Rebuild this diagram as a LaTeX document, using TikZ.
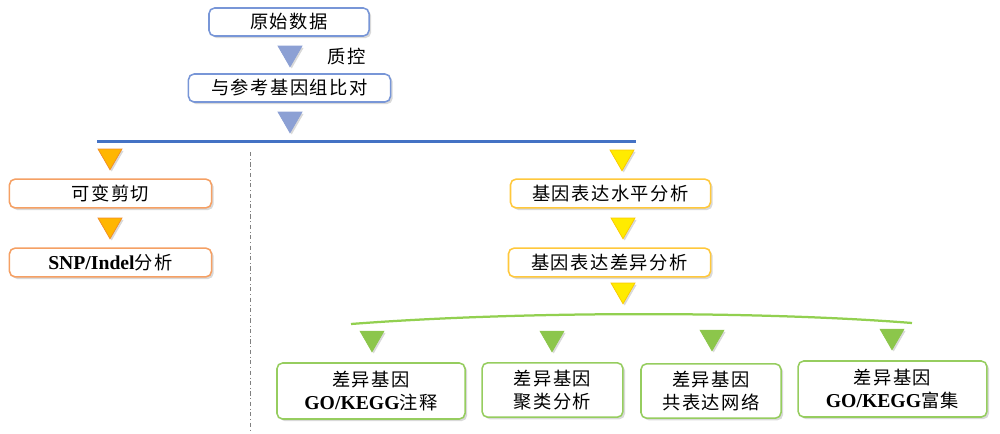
\documentclass[tikz,border=0pt]{standalone}
\usepackage{fontspec}
\setmainfont{Liberation Serif}
\newfontfamily\cjk[LetterSpace=8]{Noto Sans CJK SC}
\usepackage{xcolor}
\usetikzlibrary{shapes.geometric,shadows}

\definecolor{blueedge}{RGB}{120,150,215}
\definecolor{bluetri}{RGB}{140,160,212}
\definecolor{blueline}{RGB}{68,114,196}
\definecolor{orangeedge}{RGB}{245,160,100}
\definecolor{orangetri}{RGB}{255,182,0}
\definecolor{orangetriedge}{RGB}{240,140,40}
\definecolor{yellowedge}{RGB}{255,200,60}
\definecolor{yellowtri}{RGB}{255,235,0}
\definecolor{yellowtriedge}{RGB}{250,200,0}
\definecolor{greenedge}{RGB}{150,205,95}
\definecolor{greentri}{RGB}{140,198,75}
\definecolor{greenline}{RGB}{146,208,80}

\newcommand\lat[1]{{\normalfont\bfseries\fontsize{14}{16}\selectfont #1}}

\tikzset{
    cjkfont/.style={font=\cjk\fontsize{13}{16}\selectfont},
    stepbox/.style={draw, rounded corners=4pt, line width=1.1pt, fill=white,
        inner sep=0pt, cjkfont, align=center,
        drop shadow={shadow xshift=1.5pt, shadow yshift=-1.5pt, opacity=0.3, fill=gray}},
    downtri/.style={regular polygon, regular polygon sides=3, shape border rotate=180,
        minimum size=0.69cm, inner sep=0pt, line width=0.5pt,
        drop shadow={shadow xshift=1.2pt, shadow yshift=-1.2pt, opacity=0.3, fill=gray}}
}

\begin{document}
\begin{tikzpicture}[x=0.025cm, y=-0.025cm]
            \useasboundingbox (0,0) rectangle (1000,434);
            % top part
            \node[stepbox, draw=blueedge, minimum width=4cm, minimum height=0.7cm] (raw) at (289,22) {原始数据};
            \node[downtri, fill=bluetri, draw=bluetri] (t1) at (290,53) {};
            \node[cjkfont] (qc) at (347,57) {质控};
            \node[stepbox, draw=blueedge, minimum width=5.05cm, minimum height=0.7cm] (align) at (289.5,88) {与参考基因组比对};
            \node[downtri, fill=bluetri, draw=bluetri] (t2) at (290,119) {};
            \draw[blueline, line width=1.6pt] (97,141.5) -- (636,141.5);
            \draw[gray, dash dot, line width=0.6pt] (250,152) -- (250,432);
            % left branch
            \node[downtri, fill=orangetri, draw=orangetriedge] (t3) at (110,156) {};
            \node[stepbox, draw=orangeedge, minimum width=5.05cm, minimum height=0.72cm] (splice) at (110.5,193.5) {可变剪切};
            \node[downtri, fill=orangetri, draw=orangetriedge] (t4) at (110,225) {};
            \node[stepbox, draw=orangeedge, minimum width=5.05cm, minimum height=0.72cm] (snp) at (110.5,262.5) {\lat{SNP/Indel}分析};
            % right branch
            \node[downtri, fill=yellowtri, draw=yellowtriedge] (t5) at (622,157) {};
            \node[stepbox, draw=yellowedge, minimum width=5cm, minimum height=0.72cm] (expr) at (610.5,193.5) {基因表达水平分析};
            \node[downtri, fill=yellowtri, draw=yellowtriedge] (t6) at (623,225) {};
            \node[stepbox, draw=yellowedge, minimum width=5.05cm, minimum height=0.72cm] (deg) at (609.5,262.5) {基因表达差异分析};
            \node[downtri, fill=yellowtri, draw=yellowtriedge] (t7) at (623,290) {};
            \draw[greenline, line width=1.6pt] (351,324) .. controls (520,311) and (760,311) .. (912,323);
            % green boxes
            \node[downtri, fill=greentri, draw=greentri] (g1) at (372,338) {};
            \node[downtri, fill=greentri, draw=greentri] (g2) at (552,338) {};
            \node[downtri, fill=greentri, draw=greentri] (g3) at (712,337) {};
            \node[downtri, fill=greentri, draw=greentri] (g4) at (892,336) {};
            \node[stepbox, draw=greenedge, minimum width=4.7cm, minimum height=1.4cm] (anno) at (371,391) {差异基因\\\lat{GO/KEGG}注释};
            \node[stepbox, draw=greenedge, minimum width=3.52cm, minimum height=1.36cm] (clus) at (552.5,390) {差异基因\\聚类分析};
            \node[stepbox, draw=greenedge, minimum width=3.5cm, minimum height=1.36cm] (net) at (711,391) {差异基因\\共表达网络};
            \node[stepbox, draw=greenedge, minimum width=4.72cm, minimum height=1.4cm] (enr) at (892.5,389) {差异基因\\\lat{GO/KEGG}富集};
\end{tikzpicture}
\end{document}
